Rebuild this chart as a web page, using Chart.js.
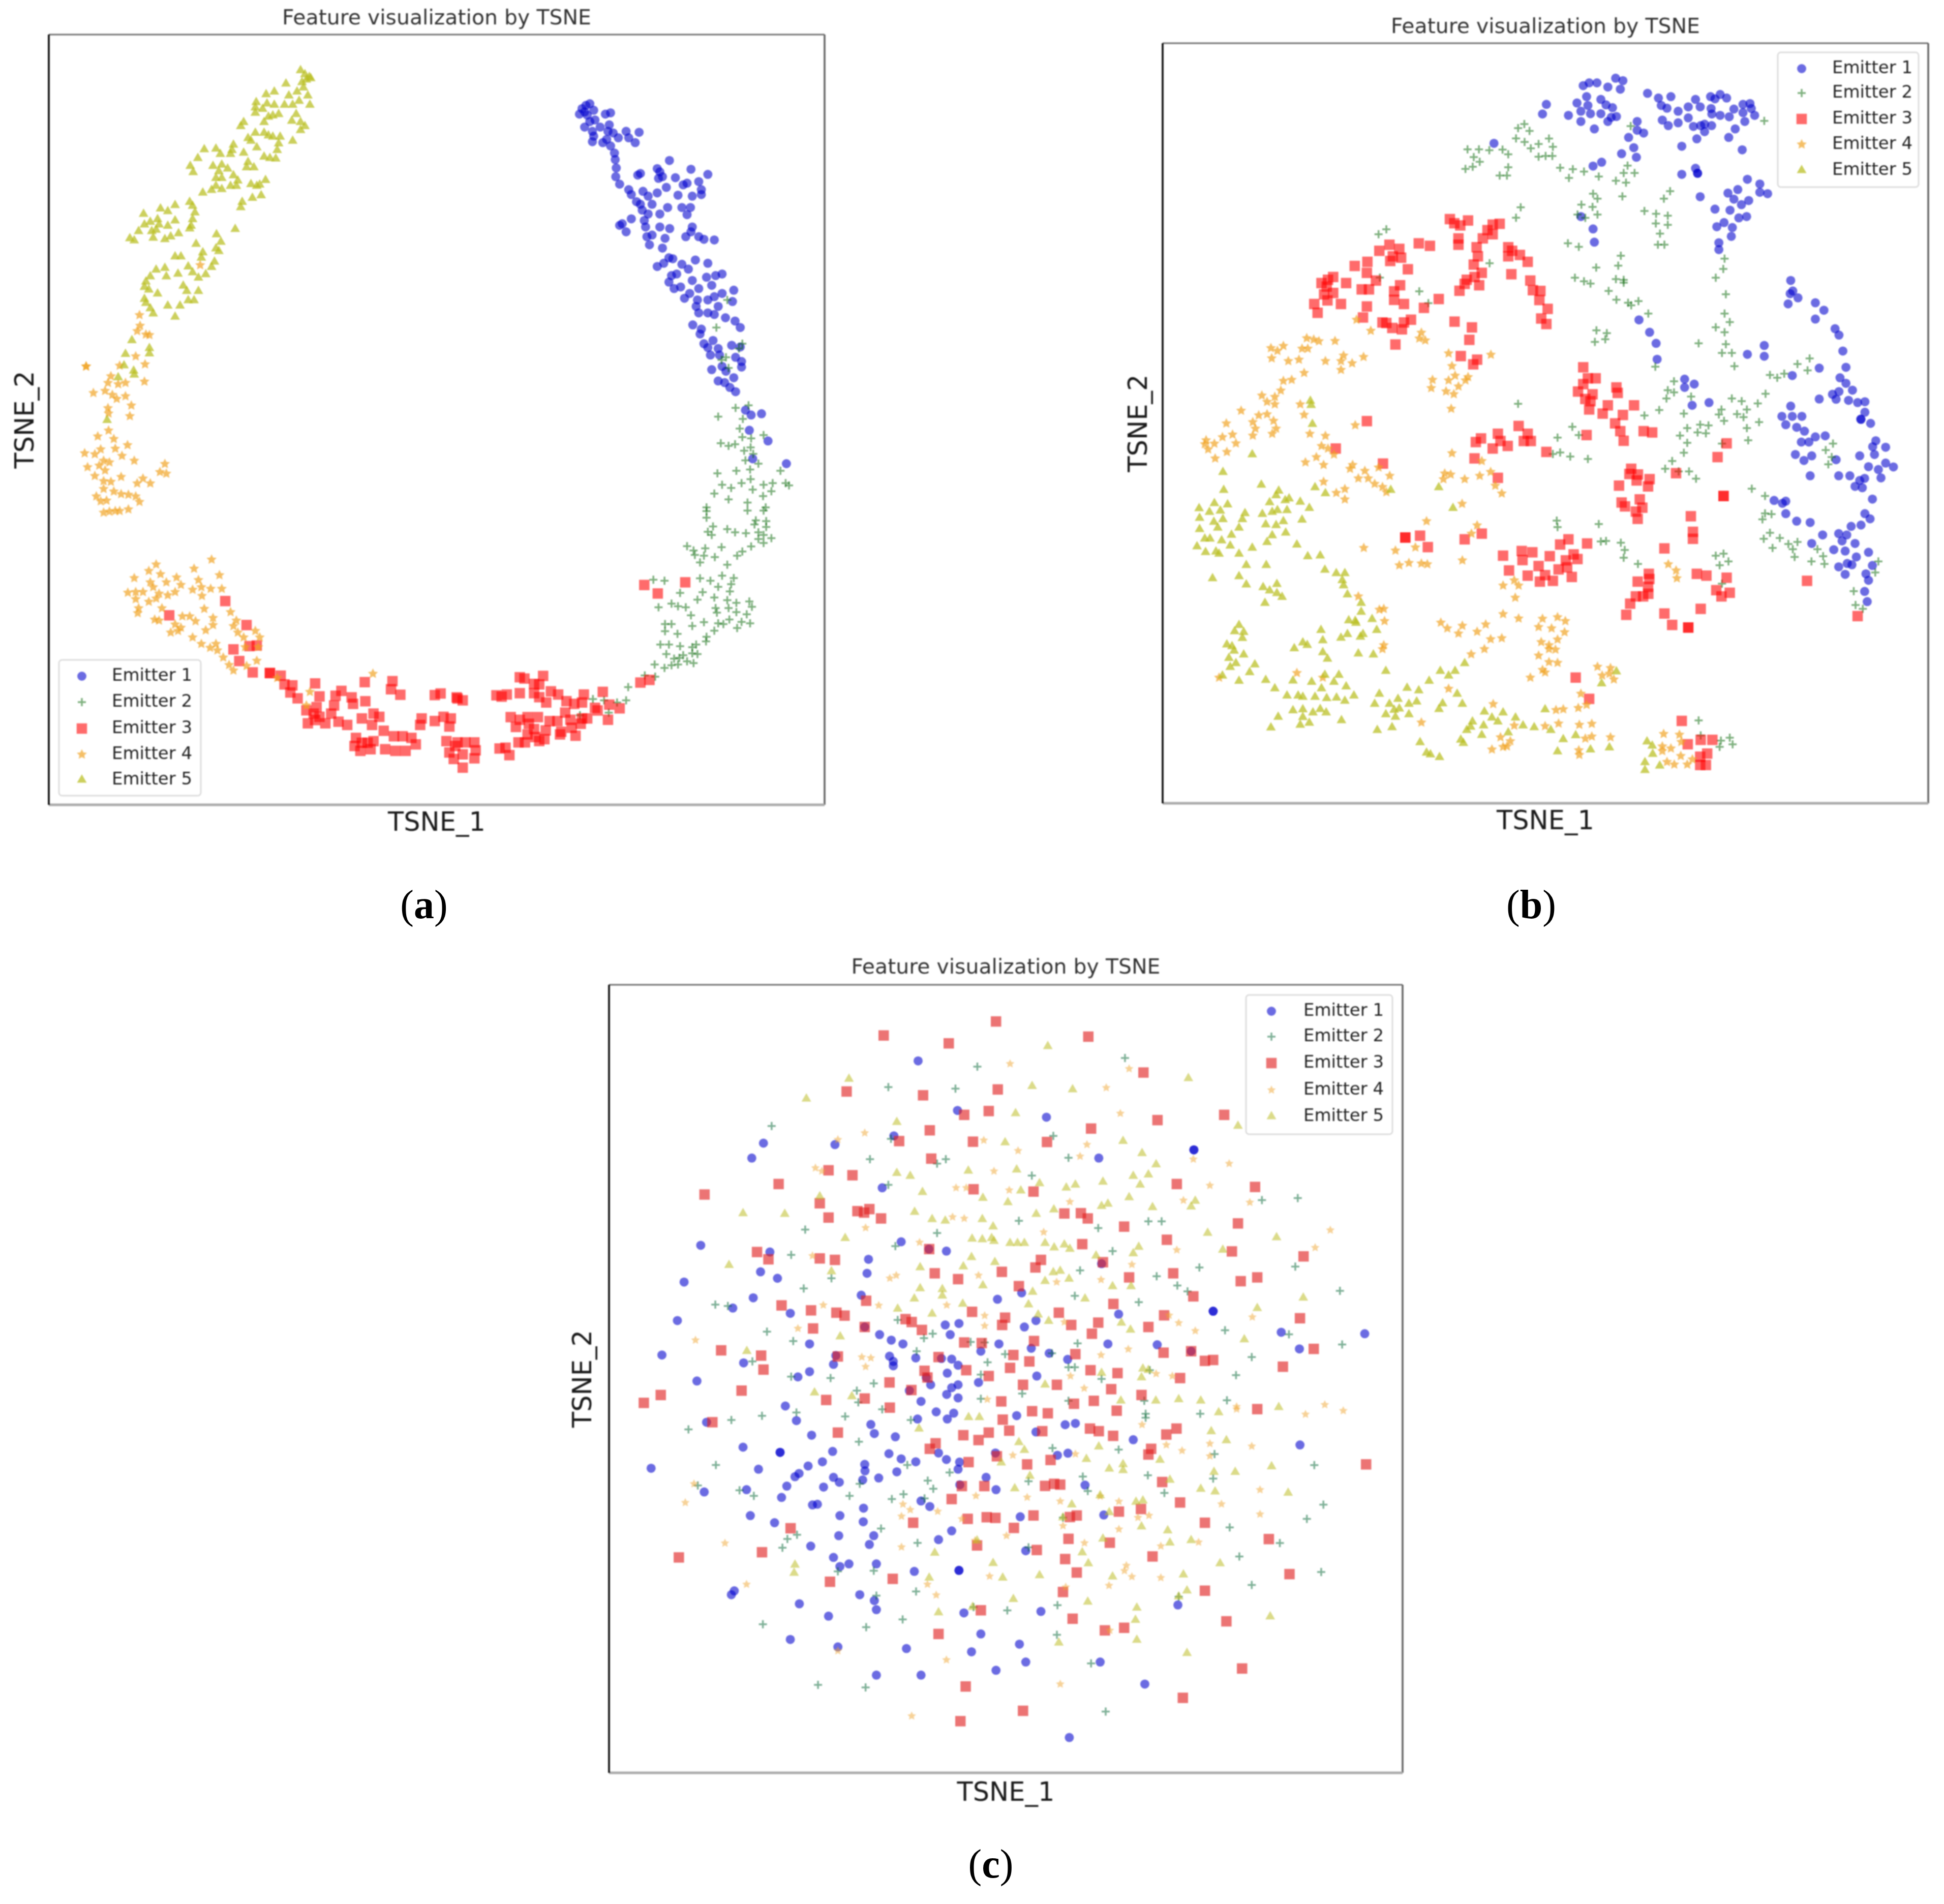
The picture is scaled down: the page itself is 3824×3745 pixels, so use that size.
<!doctype html>
<html lang="en">

<head>
  <meta charset="utf-8">
  <title>Feature visualization by TSNE</title>
  <script src="https://cdn.jsdelivr.net/npm/chart.js@4/dist/chart.umd.js"></script>
  <style>
    body { margin: 0; background: #fff; width: 3824px; height: 3745px; position: relative; overflow: hidden; }
    canvas { position: absolute; filter: blur(1.3px); }
    .cap { position: absolute; font: 80px "Liberation Serif", serif; color: #000; transform: translate(-50%, -50%); }
    .cap b { font-weight: bold; }
  </style>
</head>

<body>
  <canvas id="chartA"></canvas>
  <canvas id="chartB"></canvas>
  <canvas id="chartC"></canvas>
  <div class="cap" style="left:834px;top:1779px">(<b>a</b>)</div>
  <div class="cap" style="left:3012px;top:1779px">(<b>b</b>)</div>
  <div class="cap" style="left:1949px;top:3666px">(<b>c</b>)</div>

  <script>
    const seriesNames = ['Emitter 1', 'Emitter 2', 'Emitter 3', 'Emitter 4', 'Emitter 5'];
    const chartTitle = 'Feature visualization by TSNE';
    const xLabel = 'TSNE_1';
    const yLabel = 'TSNE_2';

    // values, tile by tile, as flat x,y lists (y grows downward on the tile)
    // panel (a)
    const aE5_1 = [1030,265,1045,280,1060,290,1050,300,1035,310,1040,330,1065,295,980,315,1018,345,990,360,1055,360,1062,395,1025,380,1003,395,975,395,940,345,912,355,878,385,875,405,900,410,915,390,940,395,875,425,935,435,955,430,920,440,905,460,1015,430,1000,455,1030,460,1045,475,1030,490,1003,530,835,460,825,475,850,520,875,500,860,530,905,500,920,510,935,515,960,515,955,540,880,555,950,565,905,590,925,595,945,597,
      800,545,795,565,790,580,740,560,755,580,835,575,700,562,678,595,652,625,662,648,850,610,845,630,870,630,730,625,760,620,780,635,750,645,800,660,740,670,760,670,815,680,790,700,810,700,740,700,725,715,760,712,695,725,910,678,860,693,880,700,890,695,895,735,865,745,830,760,825,780,806,862,
      650,760,660,775,600,772,550,785,575,795,668,800,492,805,660,825,655,850,600,830,540,825,515,835,545,845,575,850,495,845,520,870,535,865,475,870,650,860,612,878,585,890,565,900,525,895,445,897,460,905,
      742,882,757,910,740,935,672,918,695,950,750,945,690,970,600,965,620,965,735,985,725,1005,645,1003,660,1025,565,1008,535,1015,515,1040,570,1040,610,1030,680,1045,705,1032,500,1060,495,1080,510,1090,540,1105,628,1075,640,1095,680,1095,495,1125,500,1140,645,1130,665,1130,575,1150,617,1150,515,1160,525,1180,600,1192,
      452,1280,430,1332,512,1310,512,1330,425,1375,458,1395,460,1410,405,1420];
    const aE5_2 = [367,10];
    const aE4_1 = [686,997,478,1185,480,1225,470,1245,500,1258,512,1260,465,1340,497,1370,295,1378,295,1378,410,1375,380,1415,430,1440,405,1445,370,1440,360,1470,320,1478,385,1485,430,1490,400,1500,450,1525,495,1435,370,1535,372,1555,445,1565];
    const aE4_2 = [372,42,335,60,390,68,437,87,395,98,290,112,345,100,325,115,418,120,460,135,355,135,375,140,340,150,300,155,360,165,325,182,415,185,355,198,380,200,565,145,548,170,570,175,490,190,470,205,515,205,355,222,390,230,415,238,440,240,465,245,330,245,345,260,365,258,478,262,440,285,395,290,355,295,375,292,410,290,
      725,440,535,455,510,475,460,497,665,468,550,485,752,488,605,495,570,510,515,510,680,503,620,518,525,525,438,542,490,540,465,540,545,545,600,540,575,550,660,533,690,525,722,530,760,530,692,552,465,562,535,560,510,570,700,592,555,590,475,590,472,605,790,602,530,625,625,615,650,615,670,630,545,628,600,640,730,620,730,642,810,628,800,645,815,665,705,658,620,650,585,665,610,660,835,680,875,660,890,680,660,680,690,700,740,700,720,712,840,710,885,710,745,720,765,742,880,752,785,765,800,782,845,768,1278,792,1062,848,1050,890,950,805];
    const aE3_2 = [772,568,580,612,845,642,800,717,855,707,880,705,820,753,866,788,925,790,925,790,962,798,975,825,1002,828,995,850,1020,868,1080,822,1250,818,1345,815,1340,840,1372,857,1170,845,1150,860,1095,862,1205,865,1210,885,1252,877,1490,858,1510,853,1145,890,1085,895,1050,905,1075,915,1095,925,1135,915,1240,930,1280,915,1300,925,1445,930,1440,950,1490,938,1520,925,1545,930,1055,945,1080,935,1115,945,1160,940,1190,950,1275,950,1540,955,1315,968,1565,865,1220,990,1215,1015,1240,1005,1260,1005,1280,1000,1350,985,1380,985,1410,990,1425,1010,1320,1025,1355,1030,1390,1030,1235,1030,1270,1025,1530,1000,1540,1035,1555,1055,1560,1015];
    const aE3_4 = [0,715,20,722,150,703,190,700,170,708,240,695,240,635,258,640,295,660,330,630,315,662,295,695,315,710,360,688,388,700,342,730,420,725,450,735,487,700,480,730,560,690,585,738,625,752,530,750,540,760,580,795,500,790,480,790,415,768,435,795,475,810,205,785,240,795,270,785,310,785,225,822,275,810,295,830,355,800,385,800,340,835,400,840,440,825,455,855,395,850,270,850,300,860,335,868,315,875,235,880,260,880,162,903,185,900,200,928,0,880,30,880,65,880,70,910,20,925,65,940,20,975,705,655,740,645,720,288,772,320,878,278];
    const aE2_3 = [1122,1250,1072,1258,1005,1285,1100,1292,1088,1322,1180,1342,1098,1348,1132,1352,1015,1367,1045,1375,1070,1370,1105,1390,1130,1380,1110,1420,1160,1430,1140,1400,1245,1452,1002,1460,1075,1452,1128,1448,1265,1490,1278,1497,1095,1490,1020,1495,1130,1478,1055,1505,1180,1495,1215,1490,1210,1515,1138,1510,990,1522,1045,1540,1178,1530,1118,1550,1188,1565,960,1565,998,1010,1098,1060,1085,1075,1035,1102,1018,1110,1045,1135,1040,925];
    const aE2_4 = [960,10,960,35,1118,8,1180,8,1150,45,1190,48,1145,60,1190,70,985,68,965,88,980,100,1040,78,1070,90,1112,93,1160,90,1180,100,1160,115,1210,112,1180,130,885,142,910,158,915,175,955,150,950,178,1018,146,992,183,935,203,1040,212,1132,143,1098,162,1078,178,755,268,798,272,935,263,975,272,1020,253,1005,295,1065,262,1055,285,1050,312,858,318,945,315,925,343,990,335,1040,345,1075,355,1125,350,1135,370,825,358,850,368,880,372,775,372,995,375,1045,375,1000,392,1075,390,1115,398,900,402,800,435,825,435,905,442,950,428,1005,432,1025,435,1048,418,1095,427,1128,432,1078,450,800,462,848,472,990,460,960,483,958,500,782,512,815,512,858,518,905,522,920,512,905,545,925,548,805,548,870,552,835,565,855,562,885,575,910,582,760,587,850,587,825,590,798,600,722,628,762,633,658,672,650,722,522,717,565,722,615,730,472,778,583,768];
    const aE1_3 = [495,325,510,320,480,335,525,340,470,352,500,355,490,345,510,375,530,370,570,352,590,348,490,392,585,385,550,392,520,405,525,420,520,437,580,405,600,410,620,425,650,405,700,408,660,425,685,440,575,430,560,440,590,450,605,472,608,492,612,518,610,545,625,568,817,495,705,535,695,540,770,520,780,530,790,545,775,550,900,522,840,548,965,538,885,565,930,560,870,570,940,585,805,578,770,595,660,585,670,600,715,590,735,605,850,602,905,605,940,600,690,622,705,630,750,630,712,648,810,640,865,640,898,640,735,660,780,660,885,662,670,675,720,680,635,690,625,695,650,715,725,700,780,700,818,705,905,700,730,730,750,725,880,730,900,715,930,730,950,738,990,740,740,755,800,735,790,765,815,795,830,798,770,822,795,812,865,815,917,802,965,812,890,830,825,850,845,845,815,870,905,865,995,850,1020,845,960,855,980,880,860,885,835,890,930,890,895,905,875,920,1020,905,1065,895,1060,930,925,925,965,925,990,915,1005,945,920,945,930,965,965,965,990,970,1033,980,1070,990,1090,1010,907,1002,940,1015,935,1030,950,1060,985,1050,965,1072,1005,1075,1057,1065,1090,1070,975,1095,1010,1095,1072,1102,1095,1115,1095,1132,980,1140,1020,1130,1035,1145,1065,1165,1005,1175,1030,1180,1050,1195,1072,1208,1110,1265,1132,1280,1172,1276,1125,1327,1197,1360,1138,1415,1268,1430];

    // panel (b)
    const bE1_5 = [1350,520];
    const bE1_6 = [35,268,20,303,177,200,200,190,230,190,302,173,330,182,272,205,320,213,190,240,153,263,195,272,245,250,265,270,290,280,168,293,120,308,205,302,245,302,305,312,285,315,168,330,272,330,220,357,385,330,385,362,410,372,352,388,372,425,325,447,382,460,248,478,215,492,425,228,467,245,515,240,478,272,500,282,543,293,582,277,610,250,628,277,668,240,685,248,705,232,730,245,670,283,673,303,705,308,740,313,758,285,793,268,820,265,825,283,793,298,838,308,800,330,482,325,505,345,543,335,582,317,602,348,630,345,645,340,672,345,645,367,615,393,763,357,738,388,557,420,790,433,557,522,610,500,618,518,618,518,628,603,810,540,773,577,735,590,858,557,858,587,888,592,758,612,815,617,787,632,685,648,743,652,777,680,807,675,720,697,692,712,752,715,748,747,700,770,700,795,168,675,215,720,220,768,392,1050,433,1095,458,1135,462,1193,568,1265,568,1295,605,1283,597,1360,662,1350,875,1143,875,1182,810,1175,977,907,985,945,1005,970,967,992,975,955,1072,988,1105,1015,1072,1047,1148,1082,1163,1105,1178,1163,1190,1222,1087,1225,983,1252,1167,1260,1190,1280,1215,1305,1163,1310,1138,1320,1152,1338,1087,1337,1200,1342,1235,1350,1263,1347,1263,1385,1247,1410,977,1363,943,1400,983,1400,1020,1400];
    const bE1_8 = [958,30,1000,40,1030,55,1018,97,1047,97,1072,77,1110,73,1248,10,1285,25,1305,92,1293,115,1343,117,1300,145,995,145,1028,168,1058,150,1152,165,1243,150,1277,192,1343,178,1315,203,1373,193,1325,235,1052,227,1162,227,1205,227,1262,237,1243,245,1225,268,1253,273,1292,317,913,322,945,333,958,325,958,373,1000,402,1052,407,1263,373,1283,393,1248,417,1210,422,1100,455,1162,450,1193,455,1175,478,1058,488,1225,488,1143,512,1187,517,1277,522,1230,540,1195,565,1213,570,1162,578,1292,573,1187,607,1267,605,1277,630,1262,673,1272,712];
    const bE2_5 = [1467,450,1443,465,1487,475,1435,502,1468,515,1492,538,1248,542,1292,542,1332,545,1383,543,1405,560,1272,570,1295,587,1240,613,1268,605,1405,607,1372,637,1400,637,1453,752,1435,790,935,832,905,850,1333,955,910,1007,1062,1057,1097,1100,1443,1465];
    const bE2_6 = [45,392,60,422,5,412,5,458,32,455,58,455,88,498,137,503,180,512,122,535,237,530,348,490,333,517,375,517,303,545,342,552,328,602,360,347,875,328,512,583,488,610,215,592,232,610,170,632,213,640,232,668,155,668,185,680,413,655,458,665,503,672,457,700,503,705,473,737,465,777,490,777,118,772,160,785,322,817,722,828,717,865,688,897,312,853,227,860,145,897,180,910,205,918,303,902,333,905,333,915,275,945,305,977,350,988,362,997,390,982,428,1027,727,957,722,1027,742,1058,688,1077,722,1095,228,1088,268,1098,262,1120,222,1130,622,1135,727,1138,712,1170,750,1170,760,1218,455,1220,527,1273,503,1305,527,1313,498,1335,593,1328,470,1377,413,1397,565,1390,1050,1190,1003,1210,1042,1233,897,1250,925,1260,952,1245,880,1318,750,1335,788,1345,850,1353,710,1375,808,1375,700,1393,770,1392,795,1403];
    const bE2_8 = [135,38,160,70,78,80,60,143,88,137,127,153,195,162,578,43,628,30,660,33,618,60,650,63,550,72,578,100,565,138,520,170,493,200,585,210,612,238,545,210,712,103,808,43,813,90,720,15,855,20,1140,103,1112,128,1135,155,1122,183,827,277,878,305,878,372,903,375,868,395,75,400,78,425,237,413,245,480,265,478,322,485,337,513,333,543,388,567,897,447,873,470,935,467,1003,482,968,490,985,510,907,505,992,540,1080,510,1102,537,1057,557,1107,567,688,535,718,527,737,557,703,572,1315,557,1303,600,1220,672,1227,725,1255,740,712,643,622,1170,630,1228,708,1248,742,1237,753,1262,703,1272];
    const bE3_5 = [1180,795,1197,810,1220,818,1250,800,1213,865,1213,888,1372,812,1345,815,1325,835,1345,850,1307,865,1283,897,1288,930,1272,960,1303,990,1275,1005,1245,1015,1237,1030,1217,1055,1293,1035,1405,897,1405,930,1420,910,1450,925,1480,950,1417,995,1490,1018,1500,1053,947,888,985,903,908,910,960,930,992,935,950,947,1018,977,1060,883,1103,892,862,950,813,965,860,990,895,1018,730,1005,710,1015,685,1027,780,1027,705,1040,840,1050,868,1050,695,1068,730,1063,708,1090,657,1103,760,1103,670,1135,965,1057,965,1088,988,1035,1003,1103,1137,1085,1080,1117,860,1112,845,1152,920,1170,935,1172,958,1190,995,1195,1003,1170,1030,1160,970,1250,1198,1167,1265,1188,1255,1233,1222,1292,1285,1305,1270,1322,860,1528];
    const bE3_6 = [177,1222,195,1262,225,1262,177,1283,157,1310,213,1320,185,1337,205,1345,200,1375,272,1360,252,1390,305,1295,310,1315,373,1360,330,1395,12,945,8,978,40,1010,15,1045,35,1065];
    const bE3_7 = [740,122,922,180,1280,97,1300,83,1365,65,1375,93,1403,112,1345,122,1445,35,1480,65,1465,93,1492,93,1275,160,1365,235,1008,465,1008,465,1065,458,1095,502,1237,472,1303,450,1385,535,1457,517,1498,522,1460,552,1408,592,1480,612];
    const bE3_8 = [190,70,35,135,333,92,320,55,300,25,410,55,443,60,730,102,695,155,535,217,362,200,355,220,388,222,433,240,383,245,315,265,427,268,718,305,718,305,395,318,325,330,338,345,405,350,380,365,387,393,592,383,600,443,600,470,192,488,120,472,88,492,490,507,48,537,140,530,155,548,110,553,5,575,115,580,82,588,30,610,133,617,60,632,10,635,430,605,432,625,387,635,427,655,615,605,652,612,730,620,690,668,742,678,710,692,428,682,380,692,408,692,358,720,343,763,490,758,630,740,520,802,582,812,582,812,1040,632,1235,768,148,1005,200,1087,557,1172,580,1262,630,1245,675,1245,655,1298,628,1310,628,1342,650,1342];
    const bE4_5 = [820,1160,875,1200,1070,1207,1062,1228,1085,1235,628,1227,655,1232,675,1238,737,1237,490,1263,515,1273,538,1255,610,1265,632,1265,770,1290,760,1310,847,1295,493,1300,557,1310,598,1305,700,1310,803,1318,760,1342,618,1353,538,1382,570,1378,1175,1282,1338,1287,1188,1328,1200,1363,1250,1368,1240,1380,1113,1378,1175,1380,1108,1408,1213,1402,1165,1420,1195,1430,528,1417,455,1435,505,1440,475,1458,505,1467,603,1467,375,1490,1185,1483,618,1505,475,1503,443,1507];
    const bE4_7 = [318,25,420,20,500,15,430,45,510,45,815,32,640,65,700,73,495,65,303,78,342,68,420,72,240,90,272,103,355,102,235,105,248,125,320,135,275,160,685,112,710,122,733,145,665,155,623,175,693,185,805,185,795,200,905,195,852,208,827,237,865,237,948,227,890,258,920,270,935,290,693,250,775,278,742,293,775,318,1188,140,1303,170,1160,218,1183,222,1155,240,1237,240,1295,227,1337,212,1355,265,1380,295,1227,335,1090,402,1285,418,1263,450,848,505,970,515,1047,503,1228,553,985,572,1022,563,1070,565,1093,568,1385,650,1428,630,1445,650,1432,697,827,692,908,743,925,740,928,787,1385,760,1445,777,1145,793,1170,815,1228,805,1213,835,1285,828,1318,800,1337,857,1380,853,1313,895,1262,915,925,880,920,895,590,987,690,1005,290,1005,1175,1048,1347,1107,1070,1178,1428,1190,1413,1250,1375,1235,1342,1282,1385,1272,1400,1270,1490,1005];
    const bE4_8 = [505,568,535,592,538,622,20,778,78,772,108,787,5,810,55,815,105,830,78,858,15,868,45,880,45,895,70,897,5,920,45,945,78,948,20,975,30,985,232,963,282,968,250,997,278,990,295,1012,168,1067,158,1122,190,1110,72,1130,100,1127,30,1192,82,1182,162,1187,210,1183,185,1240,210,1232,282,1235,160,1285,162,1303,487,1222,548,1225,555,1253,482,1270,482,1288,515,1278,553,1307,598,1320,500,1330,528,1340,578,1340];
    const bE5_5 = [642,1455,645,1470];
    const bE5_7 = [650,28,418,145,305,213,308,282,453,262,660,272,700,295,952,282,1137,272,1192,352,520,285,510,303,545,322,560,315,603,328,638,352,485,330,272,333,323,338,213,353,253,367,295,362,390,372,380,395,495,367,515,360,552,360,457,375,215,390,305,395,270,405,610,397,470,415,510,418,538,403,215,433,285,428,367,428,338,455,495,457,547,447,235,470,255,470,300,477,475,483,205,500,333,497,418,505,590,493,238,522,278,520,290,528,367,528,632,538,680,535,395,572,472,572,698,590,742,603,775,603,765,630,770,650,265,623,367,615,395,647,460,657,513,645,485,670,513,680,533,695,467,718,785,685,838,718,838,752,790,785,815,787,818,795,880,780,898,822,683,822,690,862,785,838,760,852,845,838,835,848,367,803,350,827,385,830,380,853,320,878,340,885,348,902,613,870,630,880,580,893,690,908,708,933,827,913,885,917,385,917,328,930,355,950,333,965,428,955,408,985,933,980,303,998,367,1018,470,1015,505,1047,575,1017,647,1022,698,995,752,995,733,1022,685,1047,780,1040,552,1075,595,1075,613,1080,660,1080,705,1085,743,1083,775,1095,810,1075,575,1132,613,1128,652,1140,680,1127,703,1140,518,1157,613,1158,762,1170,638,1180,603,1188,490,1198,1143,980,1175,998,1200,980,1237,950,1100,1018,1015,1045,1060,1055,908,1068,980,1088,1208,1068,1052,1098,890,1107,947,1107,1022,1107,1228,1107,1152,1105,1138,1127,965,1130,985,1125,933,1147,970,1157,1022,1147,900,1208,957,1197,1065,1255,1090,1295,1105,1302,1140,1312,1313,1137,1385,1140,1342,1160,1433,1160,1365,1175,1267,1175,1260,1195,1245,1208,1310,1190,1462,1190,1505,1197,1303,1227,1222,1245,1232,1258,1405,1217];
    const bE5_8 = [305,982,248,1028,30,1128,52,1208,100,1243,148,1228,78,1290,205,1283,278,1275,423,1252,443,1268,445,1300,415,1332,415,1362,472,1345];

    // panel (c)
    const cE1_9 = [1230,360,700,642,660,693,945,647,1147,617,1365,530,1107,795,485,992,722,1015,690,1083,748,1105,1060,1040,1055,1088,428,1118,665,1172,595,1207,1172,980,1327,1012,1267,1005,1035,1163,792,1225,1502,1177,405,1250,1047,1272,1098,1298,1138,1317,1178,1330,1323,1265,1370,1260,1340,1298,858,1330,1507,1330,1445,1355,352,1368,632,1395,948,1370,940,1400,1222,1378,1132,1372,1145,1390,1145,1405,1310,1380,1345,1382,1367,1403,818,1443,858,1425,1330,1430,472,1457,1258,1445,1273,1470,1437,1462,1367,1470,1345,1480,1328,1503,1367,1515,1200,1490,1240,1527];
    const cE1_10 = [200,553,390,693,735,665,735,665,400,1055,110,1155,462,1228,805,1218,805,1218,120,1272,162,1250,423,1330,602,1333,1052,1290,1355,1295,1118,1347,210,1362,277,1383,165,1440,725,1355,145,1345];
    const cE1_11 = [505,90,775,40,813,85,1068,97,1080,125,1152,135,1228,80,1292,58,1352,62,1330,80,865,130,630,167,757,183,757,183,937,180,1130,187,1172,203,1222,212,1300,185,1327,205,1372,213,1367,235,902,212,853,225,822,248,808,258,683,235,315,232,1047,220,1048,240,940,260,960,275,1095,262,1157,243,1040,268,780,287,906,290,642,298,497,305,762,322,885,343,868,345,1043,355,1240,333,1270,350,655,378,962,378,1042,397,738,400,958,440,1078,440,1063,467,862,472,1300,452,1345,425,940,507,962,535,993,527,1087,527,1217,550,1370,547,1370,547,600,610,590,622,823,650,1030,622,1080,640,1087,668,923,688,1387,678,792,760,955,783,1190,788,1445,743,1413,798,1087,870,1240,870,1497,855,1495,185,1463,260,1497,298,1373,283];
    const cE1_12 = [92,87,268,122,305,117,162,150,240,240,278,232,515,180,1120,200,340,355,105,477,408,470,125,608,677,817,180,842,102,968,125,1037,395,1037,557,1122,283,1328];
    const cE2_9 = [1433,380,728,583,1128,450,1358,455,1137,627,1065,697,1295,712,1325,697,1128,785,843,938,1295,950,1152,995,795,1025,933,1105,838,1140,535,1195,578,1200,1160,1248,712,1288,802,1320,1280,1295,1250,1310,1225,1355,1410,1323,1458,1325,662,1390,1468,1393,795,1442,930,1447,1078,1465,1445,1518,1020,1490,1025,1530,1445,1435];
    const cE2_10 = [485,350,225,617,280,692,147,753,100,908,570,910,618,910,388,933,982,837,1112,830,440,1012,322,1078,755,1068,1103,1065,600,1098,675,1130,712,1150,1265,1148,303,1165,535,1187,848,1283,313,1328,1273,1332,945,1375,1080,1297,220,1362,280,1410,303,1410,400,1450,575,1420,888,1437,112,1500,855,1523,555,1525,280,1525,50,1365];
    const cE2_11 = [443,112,590,83,695,70,813,60,980,72,1027,150,1107,50,1205,83,537,222,1193,222,1338,245,1263,270,1282,295,618,300,667,317,1180,312,995,317,1140,327,1030,280,1103,418,815,437,782,450,765,477,1228,462,1078,548,955,550,1223,612,1087,625,698,713,1052,722,1177,698,1420,660,887,900,1050,908,1252,325,475,285];
    const cE2_12 = [560,80,758,80,222,212,462,218,810,235,1172,278,350,378,332,322,135,340,568,317,628,385,805,330,260,480,1145,485,865,518,1047,578,900,630,1197,690,945,740,680,785,240,818,58,838,238,932,362,1042,415,1228,135,595,1205,430,560,95];
    const cE3_9 = [1497,225,1112,273,1335,300,985,465,1247,478,1503,458,1388,545,1472,532,1270,598,1165,635,1418,637,1275,695,923,735,1005,752,752,782,498,818,1420,800,893,848,923,897,1022,875,1045,880,1063,868,1103,900,678,1015,717,1040,893,1037,945,1042,1268,1005,1287,1088,1367,1108,1517,1083,1052,1182,762,1198,863,1215,950,1223,978,1233,1187,1245,1208,1255,1243,1282,1415,1220,1518,1265,870,1277,1047,1272,555,1352,692,1370,955,1373,1388,1325,1448,1327,700,1418,1300,1375,1252,1422,1395,1420,1472,1440,625,1490,1132,1462,348,1505,290,1532,915,1522,1047,1517,1515,1527,1207,1488,1262,1445];
    const cE3_10 = [352,277,552,400,603,563,845,545,362,592,202,638,673,782,957,792,153,808,265,883,325,882,350,900,482,928,895,917,637,973,330,988,873,1013,1133,1030,405,1050,180,1042,160,1068,660,1088,500,1102,905,1115,965,1102,100,1132,733,1167,443,1193,245,1223,290,1265,388,1257,365,1295,627,1232,570,1272,1120,1242,50,1240,155,1320,1170,1347,80,1368,138,1390,305,1365,68,1412,725,1355,625,1360,775,1388,805,1385,360,1420,458,1430,1058,1408,685,1447,115,1470,238,1470,435,1485,545,1505,372,1525,300,1535];
    const cE3_11 = [525,90,955,122,1133,45,1290,155,1270,172,1385,130,1437,145,1472,122,1520,82,1500,195,1403,213,1380,287,1457,287,1345,327,1400,388,1465,383,1495,385,793,417,695,491,410,507,1213,400,1432,470,928,582,1143,573,1300,743,1445,670,1393,905,1375,1012];
    const cE3_12 = [148,70,205,78,455,68,965,62,65,145,185,147,358,137,390,147,442,165,635,160,672,137,580,215,570,237,215,258,130,275,620,343,195,358,228,350,250,353,153,472,310,472,285,478,463,457,543,447,685,422,82,520,775,500,280,562,430,577,1007,563,165,605,268,640,585,630,310,692,1082,698,260,767,775,762,295,870,412,915,482,905,853,880,910,1062,695,1175,115,1225,1360,275];
    const cE4_9 = [1047,607,955,630,1455,632,878,727,900,738,1490,738,1360,795,1395,795,1348,895,1388,900,1050,932,1235,982,868,1028,1133,1105,1155,1095,1437,1095,1095,1198,905,1197,1328,1197,818,1277,1458,1233,1458,1268,467,1317,1037,1375,1068,1378,1050,1408,1467,1520];
    const cE4_10 = [68,370,500,387,417,452,468,540,97,668,347,647,322,687,863,712,733,697,793,787,65,803,285,843,697,838,938,845,190,947,510,1058,673,1008,1230,940,1175,1000,237,1118,398,1110,947,1238,680,1258,740,1285,497,1348,398,1368,265,1255,645,1232,287,1440,598,1432,657,1440,337,1482,890,1545];
    const cE4_11 = [462,280,432,338,1178,343,1203,360,1173,380,1297,365,1428,317,568,463,1173,475,1425,455,642,590,1262,590,1292,623,955,795,1327,823,1208,996,1475,565,1380,388];
    const cE4_12 = [890,62,1140,82,1277,68,1210,45,547,122,793,195,945,205,692,222,635,200,78,240,305,235,793,243,130,402,395,398,250,417,463,418,975,373,835,428,975,467,572,472,532,480,260,512,463,525,55,550,338,578,752,575,615,590,490,665,483,685,510,708,615,712,427,742,270,748,430,915,250,1122];
    const cE5_9 = [993,422,847,490,1157,570,1157,745,1203,755,1402,737,1245,810,1452,830,893,825,630,883,773,885,1218,878,1278,903,1323,908,1450,903,1487,928,980,968,1415,970,1450,972,1482,968,1490,978,582,1060,933,1082,1237,1068,1413,1033,1493,1050,1385,1065,1237,1140,1313,1143,1313,1165,1217,1175,1160,1210,1383,1193,1278,1227,1452,1130,963,1305,643,1355,1003,1510,875,1497];
    const cE5_10 = [205,310,715,420,148,447,295,458,88,540,478,635,50,640,895,583,547,677,598,715,92,733,515,755,570,750,540,785,175,780,272,795,305,785,405,775,107,805,60,845,500,828,423,850,400,858,585,862,740,840,725,860,163,885,227,870,785,950,1035,965,68,985,95,985,120,985,195,985,228,1000,265,990,285,1005,535,998,515,1020,380,1028,840,1008,250,1080,225,1085,282,1107,195,1115,440,1133,507,1133,150,1152,135,1195,340,1175,1132,1172,965,1208,208,1252,170,1230,505,1282,918,1315,472,1258,545,1445,550,1415,570,1420,400,1430,195,1470,597,1525,680,1520,760,1525,470,1525];
    const cE5_11 = [1403,75,1440,75,1233,110,1515,215,1287,493,808,530,805,555,1268,570,1487,525,1520,570,1300,677,1417,660,1432,455];
    const cE5_12 = [825,75,798,148,853,183,100,190,120,220,390,207,612,258,345,255,1017,283,428,292,478,275,478,298,885,305,808,305,140,320,648,335,760,370,812,380,1077,385,85,368,395,395,292,430,525,420,550,415,428,460,260,480,545,515,640,530,648,577,725,568,405,562,330,615,352,657,830,657,175,703,697,700,440,708,710,762,680,785,80,795,350,805,528,828,1012,862,523,875,245,963,528,952,710,1003,1043,55];

    // which part of the page each tile of readings covers
    const tiles = {
      1: [0, 0, 900, 820], 2: [0, 820, 900, 1000], 3: [900, 0, 800, 1000], 4: [900, 1000, 800, 820],
      5: [2250, 0, 800, 850], 6: [3024, 60, 800, 850], 7: [2250, 820, 800, 800], 8: [3024, 820, 800, 800],
      9: [1100, 1880, 900, 900], 10: [1950, 1880, 850, 900], 11: [1100, 2740, 900, 1000], 12: [1950, 2740, 850, 800]
    };

    const panels = [
      {
        id: 'chartA',
        canvas: { left: 0, top: 0, width: 1700, height: 1680 },
        plot: { l: 96, r: 1622, t: 68, b: 1583 },
        titleY: 37, xLabelY: 1621, yLabelX: 53,
        legend: { l: 116, r: 395, t: 1298, b: 1565, markerX: 161, textX: 220, rows: [1330, 1381, 1433, 1484, 1534] },
        faded: false,
        series: [[[3, aE1_3]], [[3, aE2_3], [4, aE2_4]], [[2, aE3_2], [4, aE3_4]], [[1, aE4_1], [2, aE4_2]], [[1, aE5_1], [2, aE5_2]]]
      },
      {
        id: 'chartB',
        canvas: { left: 2190, top: 0, width: 1634, height: 1680 },
        plot: { l: 2287, r: 3793, t: 85, b: 1580 },
        titleY: 54, xLabelY: 1618, yLabelX: 2243,
        legend: { l: 3497, r: 3774, t: 103, b: 368, markerX: 3544, textX: 3604, rows: [135, 183, 234, 284, 335] },
        faded: false,
        series: [[[5, bE1_5], [6, bE1_6], [8, bE1_8]], [[5, bE2_5], [6, bE2_6], [8, bE2_8]], [[5, bE3_5], [6, bE3_6], [7, bE3_7], [8, bE3_8]], [[5, bE4_5], [7, bE4_7], [8, bE4_8]], [[5, bE5_5], [7, bE5_7], [8, bE5_8]]]
      },
      {
        id: 'chartC',
        canvas: { left: 1100, top: 1860, width: 1760, height: 1740 },
        plot: { l: 1198, r: 2759, t: 1937, b: 3487 },
        titleY: 1904, xLabelY: 3529, yLabelX: 1150,
        legend: { l: 2451, r: 2739, t: 1957, b: 2231, markerX: 2501, textX: 2564, rows: [1989, 2039, 2091, 2144, 2196] },
        faded: true,
        series: [[[9, cE1_9], [10, cE1_10], [11, cE1_11], [12, cE1_12]], [[9, cE2_9], [10, cE2_10], [11, cE2_11], [12, cE2_12]], [[9, cE3_9], [10, cE3_10], [11, cE3_11], [12, cE3_12]], [[9, cE4_9], [10, cE4_10], [11, cE4_11], [12, cE4_12]], [[9, cE5_9], [10, cE5_10], [11, cE5_11], [12, cE5_12]]]
      }
    ];

    // turn tile readings into 0-100 axis units of the panel
    function toPoints(parts, plot) {
      const out = [];
      parts.forEach(([tile, list]) => {
        const [tx, ty, tw, th] = tiles[tile];
        for (let i = 0; i < list.length; i += 2) {
          const px = tx + list[i] * tw / 1568;
          const py = ty + list[i + 1] * th / 1568;
          out.push({ x: (px - plot.l) / (plot.r - plot.l) * 100, y: (plot.b - py) / (plot.b - plot.t) * 100 });
        }
      });
      return out;
    }

    // Chart.js has no filled five point star, so hand it a small picture of one
    function starImage(color, outer) {
      const size = Math.ceil(outer * 2 + 2);
      const c = document.createElement('canvas');
      c.width = size;
      c.height = size;
      const g = c.getContext('2d');
      g.beginPath();
      for (let i = 0; i < 10; i++) {
        const r = i % 2 ? outer * 0.48 : outer;
        const a = -Math.PI / 2 + i * Math.PI / 5;
        g.lineTo(size / 2 + r * Math.cos(a), size / 2 + r * Math.sin(a));
      }
      g.closePath();
      g.fillStyle = color;
      g.fill();
      return c;
    }

    function seriesStyles(faded) {
      return [
        { pointStyle: 'circle', pointRadius: 9, backgroundColor: 'rgba(0,0,205,0.58)', borderColor: 'rgba(0,0,205,0)', borderWidth: 0 },
        { pointStyle: 'cross', pointRadius: 8, backgroundColor: 'rgba(0,100,0,0.5)', borderColor: faded ? 'rgba(0,100,50,0.5)' : 'rgba(0,100,0,0.5)', borderWidth: 3.5 },
        { pointStyle: 'rect', pointRadius: 14.5, backgroundColor: faded ? 'rgba(225,30,30,0.62)' : 'rgba(255,0,0,0.58)', borderColor: 'rgba(0,0,0,0)', borderWidth: 0 },
        { pointStyle: starImage(faded ? 'rgba(240,165,50,0.5)' : 'rgba(240,160,30,0.68)', faded ? 9 : 10.5), pointRadius: 8, backgroundColor: 'rgba(240,160,30,0.68)', borderColor: 'rgba(0,0,0,0)', borderWidth: 0 },
        { pointStyle: 'triangle', pointRadius: 11, backgroundColor: faded ? 'rgba(190,190,40,0.55)' : 'rgba(185,190,30,0.72)', borderColor: 'rgba(0,0,0,0)', borderWidth: 0 }
      ];
    }

    // frame of the axes: the four sides differ in the reference
    const framePlugin = {
      id: 'frame',
      afterDatasetsDraw(chart) {
        const { ctx, chartArea: a } = chart;
        const side = (x1, y1, x2, y2, color, w) => {
          ctx.beginPath();
          ctx.moveTo(x1, y1);
          ctx.lineTo(x2, y2);
          ctx.strokeStyle = color;
          ctx.lineWidth = w;
          ctx.stroke();
        };
        ctx.save();
        side(a.left, a.top, a.right, a.top, '#707070', 3);
        side(a.right, a.top, a.right, a.bottom, '#606060', 3.5);
        side(a.left, a.bottom, a.right, a.bottom, '#aaaaaa', 5);
        side(a.left, a.top, a.left, a.bottom, '#000000', 3.5);
        ctx.restore();
      }
    };

    // legend sits inside the axes, which the built-in one cannot do
    const insideLegend = {
      id: 'insideLegend',
      afterDatasetsDraw(chart, args, opts) {
        const { ctx } = chart;
        const b = opts.box;
        ctx.save();
        ctx.beginPath();
        ctx.roundRect(b.l, b.t, b.r - b.l, b.b - b.t, 6);
        ctx.fillStyle = 'rgba(255,255,255,0.8)';
        ctx.fill();
        ctx.strokeStyle = '#dddddd';
        ctx.lineWidth = 3;
        ctx.stroke();
        chart.data.datasets.forEach((ds, i) => {
          const y = b.rows[i];
          ctx.fillStyle = ds.backgroundColor;
          ctx.strokeStyle = ds.borderColor;
          ctx.lineWidth = ds.borderWidth;
          Chart.helpers.drawPoint(ctx, { pointStyle: ds.pointStyle, radius: ds.pointRadius, rotation: 0, borderWidth: ds.borderWidth }, b.markerX, y);
          ctx.font = '34px "DejaVu Sans"';
          ctx.fillStyle = '#222';
          ctx.textBaseline = 'middle';
          ctx.textAlign = 'left';
          ctx.fillText(ds.label, b.textX, y);
        });
        ctx.restore();
      }
    };

    panels.forEach(p => {
      const el = document.getElementById(p.id);
      const cv = p.canvas;
      el.width = cv.width;
      el.height = cv.height;
      el.style.left = cv.left + 'px';
      el.style.top = cv.top + 'px';

      const styles = seriesStyles(p.faded);
      const labelSize = 51;
      const titleSize = 41;

      new Chart(el, {
        type: 'scatter',
        data: {
          datasets: seriesNames.map((name, i) => Object.assign({
            label: name,
            data: toPoints(p.series[i], p.plot),
            order: 5 - i,
            clip: false
          }, styles[i]))
        },
        plugins: [framePlugin, insideLegend],
        options: {
          responsive: false,
          animation: false,
          events: [],
          layout: {
            padding: {
              top: 0,
              left: p.yLabelX - labelSize / 2 - cv.left,
              right: cv.left + cv.width - p.plot.r,
              bottom: cv.top + cv.height - (p.xLabelY + labelSize / 2)
            }
          },
          scales: {
            x: {
              type: 'linear', min: 0, max: 100,
              grid: { display: false }, border: { display: false }, ticks: { display: false },
              title: { display: true, text: xLabel, color: '#1a1a1a', padding: 0, font: { family: 'DejaVu Sans', size: labelSize, lineHeight: 1 } },
              afterFit(s) { s.height = p.xLabelY + labelSize / 2 - p.plot.b; }
            },
            y: {
              type: 'linear', min: 0, max: 100,
              grid: { display: false }, border: { display: false }, ticks: { display: false },
              title: { display: true, text: yLabel, color: '#1a1a1a', padding: 0, font: { family: 'DejaVu Sans', size: labelSize, lineHeight: 1 } },
              afterFit(s) { s.width = p.plot.l - p.yLabelX + labelSize / 2; }
            }
          },
          plugins: {
            legend: { display: false },
            tooltip: { enabled: false },
            title: {
              display: true,
              text: chartTitle,
              color: '#333',
              fullSize: false,
              font: { family: 'DejaVu Sans', size: titleSize, weight: 'normal', lineHeight: 1 },
              padding: { top: p.titleY - titleSize / 2 - cv.top, bottom: p.plot.t - p.titleY - titleSize / 2 }
            },
            insideLegend: {
              box: Object.assign({}, p.legend, {
                l: p.legend.l - cv.left, r: p.legend.r - cv.left, t: p.legend.t - cv.top, b: p.legend.b - cv.top,
                markerX: p.legend.markerX - cv.left, textX: p.legend.textX - cv.left,
                rows: p.legend.rows.map(y => y - cv.top)
              })
            }
          }
        }
      });
    });
  </script>
</body>

</html>
